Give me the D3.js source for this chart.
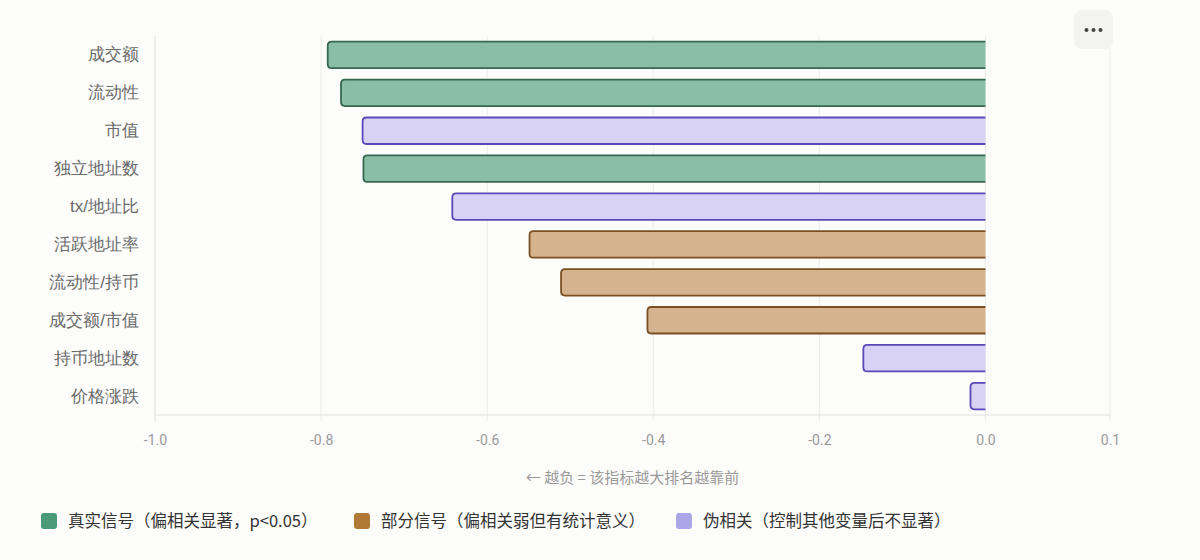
<!DOCTYPE html>
<html>
<head>
<meta charset="utf-8">
<script src="https://cdn.jsdelivr.net/npm/d3@7"></script>
<style>
  html, body { margin: 0; padding: 0; background: #fcfcfa; }
  svg { display: block; font-family: "Noto Sans CJK SC", "Noto Sans", sans-serif; }
</style>
</head>
<body>
<svg id="chart" width="1200" height="560"></svg>
<script>
const categories = ["成交额", "流动性", "市值", "独立地址数", "tx/地址比", "活跃地址率", "流动性/持币", "成交额/市值", "持币地址数", "价格涨跌"];
const values = [-0.792, -0.776, -0.750, -0.749, -0.642, -0.549, -0.511, -0.407, -0.147, -0.018];
const groups = ["real", "real", "spurious", "real", "spurious", "partial", "partial", "partial", "spurious", "spurious"];
const xTicks = [-1.0, -0.8, -0.6, -0.4, -0.2, 0.0, 0.15];
const xAxisName = "← 越负 = 该指标越大排名越靠前";
const legendKeys = ["real", "partial", "spurious"];
const legendLabels = ["真实信号（偏相关显著，p<0.05）", "部分信号（偏相关弱但有统计意义）", "伪相关（控制其他变量后不显著）"];

const styles = {
  real:     { fill: "#8abea6", stroke: "#36684f", legend: "#4a9a78" },
  partial:  { fill: "#d5b38e", stroke: "#7a4f22", legend: "#b07a35" },
  spurious: { fill: "#d8d3f6", stroke: "#5849b8", legend: "#aca6e8" }
};

const svg = d3.select("#chart");
const margin = { left: 155, right: 90, top: 36, bottom: 145 };
const W = 1200, H = 560;

const x = d3.scaleLinear().domain([-1.0, 0.15]).range([margin.left, W - margin.right]);
const yb = d3.scaleBand().domain(categories).range([margin.top, H - margin.bottom]);

// gridlines
const grid = svg.append("g");
grid.selectAll("line").data(xTicks).join("line")
  .attr("x1", d => x(d)).attr("x2", d => x(d))
  .attr("y1", margin.top).attr("y2", H - margin.bottom + 6)
  .attr("stroke", d => d === -1.0 ? "#dcdcdc" : "#ebebeb").attr("stroke-width", 1);

// bottom axis line
svg.append("line")
  .attr("x1", margin.left).attr("x2", W - margin.right)
  .attr("y1", H - margin.bottom).attr("y2", H - margin.bottom)
  .attr("stroke", "#e0e0e0").attr("stroke-width", 1);

// x tick labels
const xAxis = d3.axisBottom(x).tickValues(xTicks).tickFormat(d => d.toFixed(1)).tickSize(0).tickPadding(20);
const gx = svg.append("g").attr("transform", `translate(0,${H - margin.bottom})`).call(xAxis);
gx.select(".domain").remove();
gx.selectAll("text").attr("fill", "#9a9a9a").attr("font-size", 14).attr("font-family", "Roboto, 'Noto Sans', sans-serif");

// x axis name
svg.append("text")
  .attr("x", (margin.left + (W - margin.right)) / 2).attr("y", 483)
  .attr("text-anchor", "middle").attr("fill", "#9a9a9a").attr("font-size", 15)
  .text(xAxisName);

// y labels
const yAxis = d3.axisLeft(yb).tickSize(0).tickPadding(16);
const gy = svg.append("g").attr("transform", `translate(${margin.left},0)`).call(yAxis);
gy.select(".domain").remove();
gy.selectAll("text").attr("fill", "#6a6a6a").attr("font-size", 17);

// bars: rounded left corners, open right edge at zero
const r = 4;
function barPath(v, cat) {
  const x0 = x(0), x1 = x(v);
  const bh = yb.bandwidth() * 0.7;
  const t = yb(cat) + (yb.bandwidth() - bh) / 2, b = t + bh;
  const rr = Math.min(r, (x0 - x1) / 2);
  return `M${x0},${t} L${x1 + rr},${t} Q${x1},${t} ${x1},${t + rr} L${x1},${b - rr} Q${x1},${b} ${x1 + rr},${b} L${x0},${b}`;
}
const data = categories.map((c, i) => ({ c, v: values[i], g: groups[i] }));
const bars = svg.append("g");
bars.selectAll("path.fill").data(data).join("path")
  .attr("class", "fill")
  .attr("d", d => barPath(d.v, d.c) + " Z")
  .attr("fill", d => styles[d.g].fill).attr("stroke", "none");
bars.selectAll("path.edge").data(data).join("path")
  .attr("class", "edge")
  .attr("d", d => barPath(d.v, d.c))
  .attr("fill", "none").attr("stroke", d => styles[d.g].stroke).attr("stroke-width", 1.8);

// legend
const legendX = [41, 354, 676];
const lg = svg.append("g");
legendKeys.forEach((k, i) => {
  lg.append("rect").attr("x", legendX[i]).attr("y", 513).attr("width", 16).attr("height", 16).attr("rx", 3)
    .attr("fill", styles[k].legend);
  lg.append("text").attr("x", legendX[i] + 27).attr("y", 527).attr("fill", "#333").attr("font-size", 16.5)
    .text(legendLabels[i]);
});

// menu button
const mb = svg.append("g");
mb.append("rect").attr("x", 1074).attr("y", 10).attr("width", 39).attr("height", 39).attr("rx", 8).attr("fill", "#f3f3ef");
[-7, 0, 7].forEach(dx => mb.append("circle").attr("cx", 1093.5 + dx).attr("cy", 30).attr("r", 2).attr("fill", "#444"));
</script>
</body>
</html>
